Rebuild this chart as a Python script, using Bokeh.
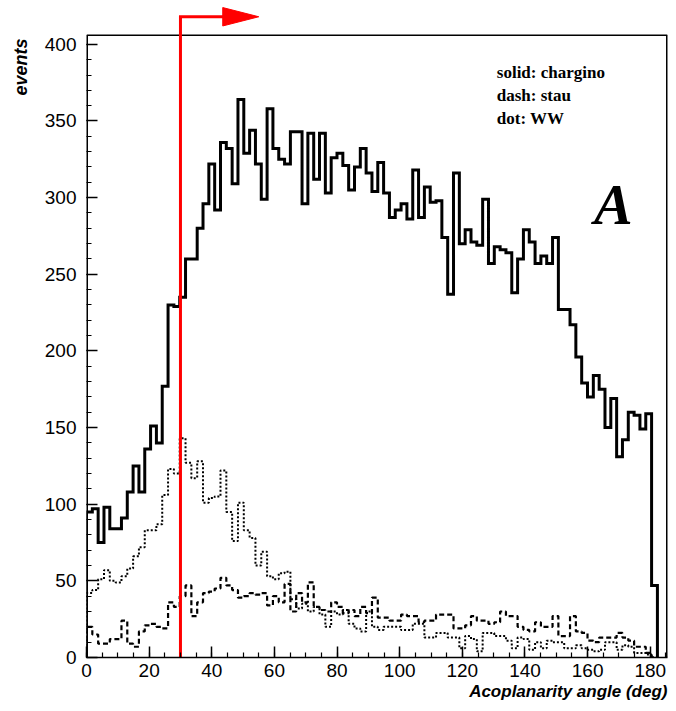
import numpy as np
from bokeh.plotting import figure
from bokeh.models import Range1d, Title, Label, FixedTicker
from bokeh.embed import file_html
from bokeh.resources import INLINE

# Histogram binning (degrees per bin), bins start at 0
BIN_WIDTH = 1.86

# Event counts per bin
chargino = [95, 97, 75, 98, 84, 84, 91, 108, 125, 108,
            136, 151, 140, 177, 230, 229, 235, 260, 260, 280,
            296, 322, 292, 336, 332, 309, 364, 329, 344, 322,
            299, 358, 332, 325, 322, 343, 343, 296, 342, 312,
            342, 303, 326, 329, 321, 305, 320, 332, 316, 304,
            323, 303, 287, 292, 296, 286, 318, 287, 307, 297,
            298, 274, 237, 316, 270, 279, 271, 269, 299, 257,
            268, 266, 264, 238, 260, 279, 271, 257, 262, 257,
            274, 227, 227, 217, 196, 179, 170, 184, 175, 150,
            169, 131, 142, 160, 158, 149, 159, 47]

stau = [20, 15, 9, 9, 12, 12, 24, 9, 7, 17,
        21, 22, 20, 19, 36, 33, 40, 47, 27, 36,
        42, 43, 45, 52, 47, 44, 39, 40, 42, 41,
        42, 34, 40, 36, 48, 30, 42, 36, 49, 33,
        31, 30, 36, 33, 29, 31, 27, 33, 29, 39,
        26, 26, 24, 24, 28, 27, 27, 23, 24, 24,
        28, 28, 28, 19, 19, 21, 27, 24, 24, 22,
        23, 30, 27, 27, 20, 18, 17, 23, 20, 20,
        27, 14, 14, 27, 17, 16, 11, 10, 13, 13,
        13, 16, 13, 11, 7, 7, 3, 0]

ww = [42, 44, 51, 57, 50, 49, 53, 58, 66, 72,
      83, 83, 87, 106, 123, 120, 143, 127, 117, 128,
      101, 104, 105, 122, 95, 76, 101, 83, 78, 60,
      69, 53, 51, 55, 56, 38, 32, 35, 30, 33,
      28, 20, 30, 28, 31, 22, 19, 17, 30, 20,
      18, 20, 20, 20, 18, 18, 22, 22, 13, 13,
      16, 16, 13, 13, 6, 14, 12, 4, 16, 16,
      14, 14, 11, 6, 13, 12, 5, 10, 6, 11,
      10, 10, 6, 6, 8, 6, 5, 4, 5, 10,
      10, 5, 8, 7, 3, 3, 2, 0]

# Selection cut on the acoplanarity angle
CUT_ANGLE = 30

X_TICKS = [0, 20, 40, 60, 80, 100, 120, 140, 160, 180]
Y_TICKS = [0, 50, 100, 150, 200, 250, 300, 350, 400]

# Histogram box limits; the drawing area reaches a little higher so the
# cut arrow can sit above the box
X_MAX = 185.5
Y_MAX = 406
Y_TOP = 426
ARROW_Y = 418

edges = np.arange(len(chargino) + 1) * BIN_WIDTH


def step_path(vals):
    xs = np.repeat(edges, 2)
    ys = np.concatenate([[0], np.repeat(np.asarray(vals, float), 2), [0]])
    return xs, ys


p = figure(width=676, height=711,
           x_range=Range1d(0, X_MAX), y_range=Range1d(0, Y_TOP),
           output_backend="svg", toolbar_location=None,
           min_border_left=86, min_border_right=9,
           min_border_top=4, min_border_bottom=54)
p.background_fill_color = "white"
p.border_fill_color = "white"
p.outline_line_color = None
p.xgrid.visible = False
p.ygrid.visible = False

for ax in (p.xaxis[0], p.yaxis[0]):
    ax.axis_line_color = "black"
    ax.axis_line_width = 1.5
    ax.major_tick_in = 11
    ax.major_tick_out = 0
    ax.minor_tick_in = 5
    ax.minor_tick_out = 0
    ax.major_tick_line_width = 1.5
    ax.minor_tick_line_width = 1.2
    ax.major_label_text_font = "Liberation Sans"
    ax.major_label_text_font_size = "19px"
    ax.major_label_text_color = "black"

p.yaxis[0].axis_line_color = None
p.xaxis[0].ticker = FixedTicker(ticks=X_TICKS, minor_ticks=list(range(0, 186, 5)))
p.yaxis[0].ticker = FixedTicker(ticks=Y_TICKS, minor_ticks=list(range(0, 401, 10)))
p.xaxis[0].major_label_standoff = 6
p.yaxis[0].major_label_standoff = 10

# Axis titles placed at the far ends of the axes
p.add_layout(Title(text="Acoplanarity angle (deg)", align="right",
                   text_font="Liberation Sans", text_font_style="bold italic",
                   text_font_size="17px", text_color="black", standoff=0), "below")
p.add_layout(Title(text="events", align="right", offset=34, vertical_align="top",
                   text_font="Liberation Sans", text_font_style="bold italic",
                   text_font_size="18px", text_color="black", standoff=18), "left")

# Box around the histogram area
p.segment(x0=[0, 0, X_MAX], y0=[Y_MAX, 0, 0], x1=[X_MAX, 0, X_MAX], y1=[Y_MAX, Y_MAX, Y_MAX],
          line_color="black", line_width=[1.5, 3, 3])

# Histograms
xs, ys = step_path(ww)
p.line(xs, ys, line_color="black", line_width=2, line_dash="2 2")
xs, ys = step_path(stau)
p.line(xs, ys, line_color="black", line_width=2.2, line_dash="5 3")
xs, ys = step_path(chargino)
p.line(xs, ys, line_color="black", line_width=3, line_join="miter")

# Cut line with an arrow pointing to the accepted region
p.line([CUT_ANGLE, CUT_ANGLE, CUT_ANGLE + 14], [0, ARROW_Y, ARROW_Y],
       line_color="red", line_width=3, line_join="miter")
p.patch([CUT_ANGLE + 13.5, CUT_ANGLE + 25, CUT_ANGLE + 13.5],
        [ARROW_Y + 6, ARROW_Y, ARROW_Y - 6],
        fill_color="red", line_color="red", line_width=1)

# Legend text
legend_lines = ["solid: chargino", "dash: stau", "dot: WW"]
for i, txt in enumerate(legend_lines):
    p.add_layout(Label(x=131, y=388 - 15 * i, text=txt,
                       text_font="Liberation Serif", text_font_style="bold",
                       text_font_size="17px", text_baseline="top",
                       text_color="black"))

p.add_layout(Label(x=162, y=317, text="A",
                   text_font="Liberation Serif", text_font_style="bold italic",
                   text_font_size="58px", text_baseline="top",
                   text_color="black"))

open("out.html", "w").write(file_html(p, INLINE))
